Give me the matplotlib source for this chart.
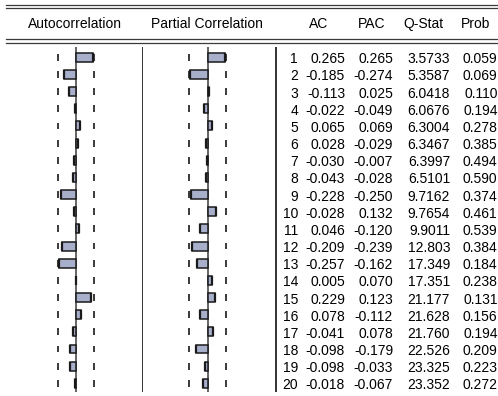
import numpy as np
import matplotlib.pyplot as plt
from matplotlib.lines import Line2D

# ===========================
# Data (correlogram table)
# ===========================

lags = np.arange(1, 21)
ac = [0.265, -0.185, -0.113, -0.022, 0.065, 0.028, -0.030, -0.043, -0.228, -0.028,
      0.046, -0.209, -0.257, 0.005, 0.229, 0.078, -0.041, -0.098, -0.098, -0.018]
pac = [0.265, -0.274, 0.025, -0.049, 0.069, -0.029, -0.007, -0.028, -0.250, 0.132,
       -0.120, -0.239, -0.162, 0.070, 0.123, -0.112, 0.078, -0.179, -0.033, -0.067]
qstat = [3.5733, 5.3587, 6.0418, 6.0676, 6.3004, 6.3467, 6.3997, 6.5101, 9.7162, 9.7654,
         9.9011, 12.803, 17.349, 17.351, 21.177, 21.628, 21.760, 22.526, 23.325, 23.352]
prob = [0.059, 0.069, 0.110, 0.194, 0.278, 0.385, 0.494, 0.590, 0.374, 0.461,
        0.539, 0.384, 0.184, 0.238, 0.131, 0.156, 0.194, 0.209, 0.223, 0.272]

headers = ["AC", "PAC", "Q-Stat", "Prob"]
band = 2 / np.sqrt(50)   # approx. +/- 2 s.e. bounds

# ===========================
# Layout
# ===========================

W, H = 498, 396
plt.rcParams['font.family'] = ['Liberation Sans', 'DejaVu Sans']
plt.rcParams['font.size'] = 10

fig = plt.figure(figsize=(W / 100, H / 100), dpi=100)

row0, pitch = 57.3, 17.16          # pixel position of lag 1, pixels per lag
scale = 65.0                       # pixels per unit of correlation
ylim = (1 + (H - row0) / pitch, 1 - row0 / pitch)
base = 6.0 / pitch                 # text baseline offset below row centre

BAR = '#A8AFCB'
EDGE = '#1a1a1a'
LINE = '#3a3a3a'


def make_axes(x0, x1, xlim):
    ax = fig.add_axes([x0 / W, 0, (x1 - x0) / W, 1])
    ax.set_xlim(*xlim)
    ax.set_ylim(*ylim)
    ax.axis('off')
    return ax


def corr_panel(x0, x1, centre, values, left_rule):
    ax = make_axes(x0, x1, ((x0 - centre) / scale, (x1 - centre) / scale))
    ax.barh(lags, values, height=0.52, color=BAR, edgecolor=EDGE, linewidth=1.1, zorder=3)
    ax.vlines(values, lags - 0.26, lags + 0.26, color=EDGE, linewidth=1.6, zorder=4)
    ax.vlines(0, lags[0] - 0.6, lags[-1] + 0.52, color=LINE, linewidth=1.1, zorder=2)
    for b in (-band, band):
        ax.vlines(np.full(len(lags), b), lags - 0.2, lags + 0.2, color=LINE, linewidth=1.4)
    if left_rule:
        ax.vlines(ax.get_xlim()[0], lags[0] - 0.6, lags[-1] + 0.52, color='#111111', linewidth=1.2)
    return ax


ax_ac = corr_panel(0, 142, 76, ac, False)
ax_pac = corr_panel(142, 275, 207.5, pac, True)

# table columns (right-aligned edges, pixels)
ax_tab = make_axes(275, W, (275, W))
ax_tab.vlines(275.5, lags[0] - 0.6, lags[-1] + 0.52, color='#111111', linewidth=1.2)

col_right = [298, 345, 393, 450, 497.5]
for i, lag in enumerate(lags):
    cells = [str(lag), f"{ac[i]:.3f}", f"{pac[i]:.3f}", f"{qstat[i]:#.5g}", f"{prob[i]:.3f}"]
    for x, s in zip(col_right, cells):
        ax_tab.text(x, lag + base, s, ha='right', va='baseline', color='black')

# header: double rules above and below the column titles
for y in (4.5, 8.0, 39.2, 42.7):
    fig.add_artist(Line2D([6 / W, 1], [1 - y / H] * 2, color=LINE, linewidth=0.9))

head_y = 1 - 28 / H
fig.text(75 / W, head_y, "Autocorrelation", ha='center', va='baseline')
fig.text(207 / W, head_y, "Partial Correlation", ha='center', va='baseline')
for x, s in zip([319, 372, 423.5, 475.5], headers):
    fig.text(x / W, head_y, s, ha='center', va='baseline')

fig.savefig("out.png", dpi=100)
